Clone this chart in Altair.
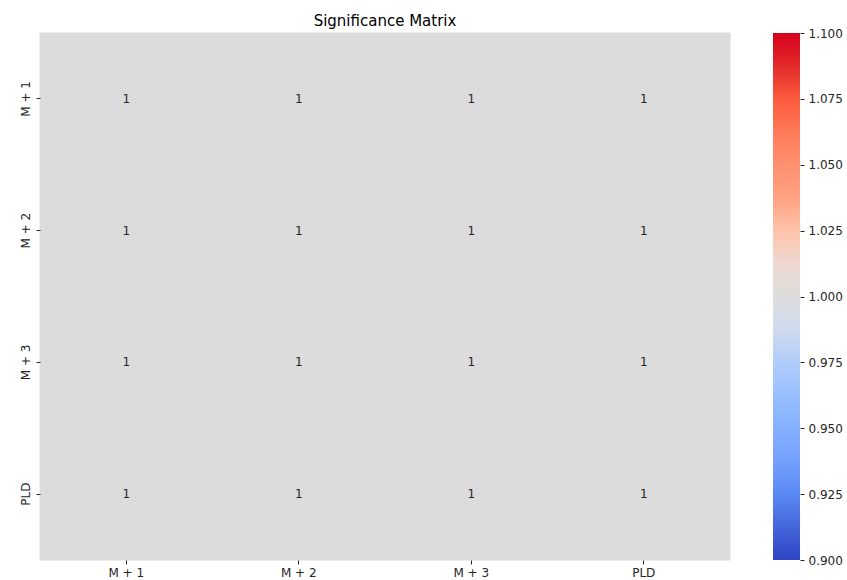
import altair as alt
import pandas as pd

# Significance matrix values (rows x columns)
row_labels = ["M + 1", "M + 2", "M + 3", "PLD"]
col_labels = ["M + 1", "M + 2", "M + 3", "PLD"]
values = [
    [1, 1, 1, 1],
    [1, 1, 1, 1],
    [1, 1, 1, 1],
    [1, 1, 1, 1],
]

# colorbar limits and ticks
vmin, vmax = 0.9, 1.1
cbar_ticks = [0.9, 0.925, 0.95, 0.975, 1.0, 1.025, 1.05, 1.075, 1.1]

# diverging blue-grey-red palette (low -> high)
palette = [
    "#2e44c4", "#4466dc", "#5a88f2", "#74a0ff", "#85b0ff", "#98bfff",
    "#b0cdfb", "#d0dbee", "#dcdcdc", "#eed8d0", "#ffc4aa", "#ffa282",
    "#ff9070", "#ff7a58", "#fc5a3e", "#e22a2a", "#d5001c",
]
n = len(palette)
stops = [vmin + (vmax - vmin) * i / (n - 1) for i in range(n)]

rows = []
for i, r in enumerate(row_labels):
    for j, c in enumerate(col_labels):
        rows.append({"row": r, "col": c, "value": values[i][j]})
df = pd.DataFrame(rows)

font = "DejaVu Sans"
ink = "#262626"
color_scale = alt.Scale(domain=stops, range=palette, type="linear")

base = alt.Chart(df).encode(
    x=alt.X("col:N", sort=col_labels, title=None,
            axis=alt.Axis(labelAngle=0, labelFontSize=12, labelFont=font,
                          labelColor=ink, domain=False, tickSize=4,
                          tickColor=ink, labelPadding=3)),
    y=alt.Y("row:N", sort=row_labels, title=None,
            axis=alt.Axis(labelAngle=270, labelFontSize=12, labelFont=font,
                          labelColor=ink, domain=False, tickSize=4,
                          tickColor=ink, labelPadding=4,
                          labelAlign="center", labelBaseline="bottom")),
)

cells = base.mark_rect(strokeWidth=1).encode(
    color=alt.Color("value:Q", scale=color_scale, legend=None),
    stroke=alt.Stroke("value:Q", scale=color_scale, legend=None),
)

labels = base.mark_text(font=font, fontSize=12, color=ink).encode(
    text=alt.Text("value:Q", format="d")
)

heatmap = cells + labels

# colorbar: a gradient-filled bar with its own value axis
cbar_df = pd.DataFrame({"lo": [vmin], "hi": [vmax]})
gradient = alt.Gradient(
    gradient="linear",
    stops=[alt.GradientStop(color=c, offset=i / (n - 1)) for i, c in enumerate(palette)],
    x1=0, x2=0, y1=1, y2=0,
)
colorbar = alt.Chart(cbar_df).mark_rect(fill=gradient, clip=False).encode(
    x=alt.value(733),
    x2=alt.value(760),
    y=alt.Y("lo:Q", scale=alt.Scale(domain=[vmin, vmax], nice=False, zero=False),
            title=None,
            axis=alt.Axis(orient="right", offset=70, values=cbar_ticks,
                          format=".3f", labelFontSize=12, labelFont=font,
                          labelColor=ink, domain=False, tickSize=4,
                          tickColor=ink, labelPadding=4, grid=False,
                          labelFlush=False)),
    y2="hi:Q",
)

chart = (
    alt.layer(heatmap, colorbar)
    .resolve_scale(y="independent")
    .resolve_axis(y="independent")
    .properties(
        width=690,
        height=527,
        title=alt.TitleParams("Significance Matrix", fontSize=15, font=font,
                              fontWeight="normal", color="#000000", offset=-2),
        autosize=alt.AutoSizeParams(type="none"),
        padding={"left": 40, "top": 33, "right": 117, "bottom": 20},
    )
    .configure_view(stroke=None)
    .configure_axis(grid=False)
)

chart.save("out.html", embed_options={"renderer": "svg", "actions": False})
